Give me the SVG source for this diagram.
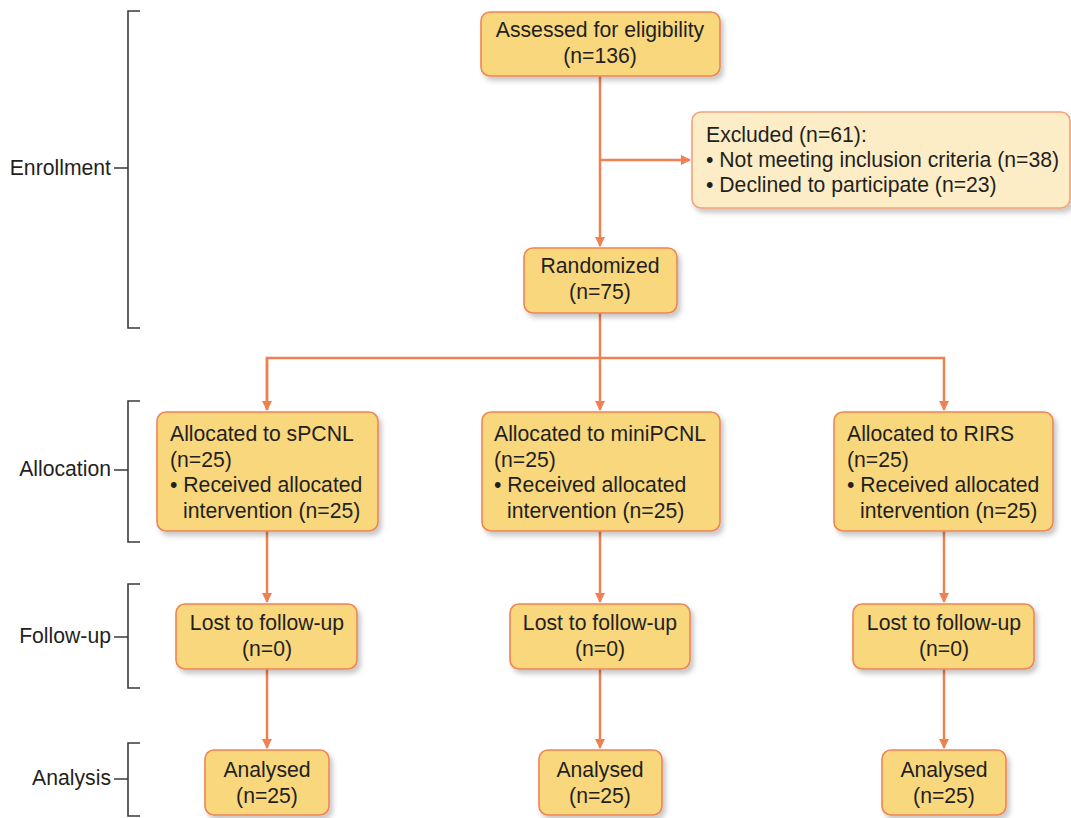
<svg xmlns="http://www.w3.org/2000/svg" width="1071" height="818" viewBox="0 0 1071 818">
<style>
text{font-family:"Liberation Sans",Arial,sans-serif;font-size:21.2px;fill:#231f20}
.c{text-anchor:middle}
.r{text-anchor:end}
.box{fill:#f9d77d;stroke:#ef8456;stroke-width:1.6;filter:url(#sh)}
.ex{fill:#fdedc6;stroke:#f3a27c;stroke-width:1.6;filter:url(#sh)}
.ln{fill:none;stroke:#ef8050;stroke-width:2.5}
.br{fill:none;stroke:#3a3a3a;stroke-width:1.6}
</style>
<defs>
<filter id="sh" x="-10%" y="-10%" width="125%" height="130%">
<feDropShadow dx="3" dy="4" stdDeviation="2.5" flood-color="#000" flood-opacity="0.22"/>
</filter>
<marker id="ah" markerWidth="10" markerHeight="10" refX="9" refY="5" orient="auto" markerUnits="userSpaceOnUse">
<path d="M0,0 L10,5 L0,10 Z" fill="#ef8050"/>
</marker>
</defs>
<rect width="1071" height="818" fill="#fff"/>
<g id="phases">
<path class="br" d="M140,11 H128 V328 H140 M114,168 H128"/>
<text class="r" x="111" y="175">Enrollment</text>
<path class="br" d="M140,401 H128 V542 H140 M114,470 H128"/>
<text class="r" x="111" y="476">Allocation</text>
<path class="br" d="M140,584 H128 V688 H140 M114,637 H128"/>
<text class="r" x="111" y="643">Follow-up</text>
<path class="br" d="M140,743 H128 V816 H140 M114,779 H128"/>
<text class="r" x="111" y="785">Analysis</text>
</g>
<g id="connectors">
<path class="ln" d="M600,76 V246" marker-end="url(#ah)"/>
<path class="ln" d="M600,160 H690" marker-end="url(#ah)"/>
<path class="ln" d="M600,313 V410" marker-end="url(#ah)"/>
<path class="ln" d="M267,410 V358 H944 V410" marker-end="url(#ah)"/>
<path class="ln" d="M267,358 V410" marker-end="url(#ah)"/>
<path class="ln" d="M267,531 V602" marker-end="url(#ah)"/>
<path class="ln" d="M600,531 V602" marker-end="url(#ah)"/>
<path class="ln" d="M944,531 V602" marker-end="url(#ah)"/>
<path class="ln" d="M267,669 V748" marker-end="url(#ah)"/>
<path class="ln" d="M600,669 V748" marker-end="url(#ah)"/>
<path class="ln" d="M944,669 V748" marker-end="url(#ah)"/>
</g>
<g id="assessed">
<rect class="box" x="481" y="12" width="239" height="64" rx="9"/>
<text class="c" x="600" y="37">Assessed for eligibility</text>
<text class="c" x="600" y="63">(n=136)</text>
</g>
<g id="excluded">
<rect class="ex" x="692" y="112" width="378" height="96" rx="9"/>
<text x="706" y="142">Excluded (n=61):</text>
<text x="706" y="167">• Not meeting inclusion criteria (n=38)</text>
<text x="706" y="192">• Declined to participate (n=23)</text>
</g>
<g id="randomized">
<rect class="box" x="524" y="248" width="153" height="65" rx="9"/>
<text class="c" x="600" y="273">Randomized</text>
<text class="c" x="600" y="299">(n=75)</text>
</g>
<g id="alloc-spcnl">
<rect class="box" x="157" y="412" width="221" height="119" rx="9"/>
<text x="170" y="441">Allocated to sPCNL</text>
<text x="170" y="467">(n=25)</text>
<text x="170" y="492">• Received allocated</text>
<text x="183" y="518">intervention (n=25)</text>
</g>
<g id="alloc-minipcnl">
<rect class="box" x="482" y="412" width="238" height="119" rx="9"/>
<text x="494" y="441">Allocated to miniPCNL</text>
<text x="494" y="467">(n=25)</text>
<text x="494" y="492">• Received allocated</text>
<text x="507" y="518">intervention (n=25)</text>
</g>
<g id="alloc-rirs">
<rect class="box" x="834" y="412" width="219" height="119" rx="9"/>
<text x="847" y="441">Allocated to RIRS</text>
<text x="847" y="467">(n=25)</text>
<text x="847" y="492">• Received allocated</text>
<text x="860" y="518">intervention (n=25)</text>
</g>
<g id="lost-spcnl">
<rect class="box" x="176" y="604" width="181" height="65" rx="9"/>
<text class="c" x="267" y="630">Lost to follow-up</text>
<text class="c" x="267" y="656">(n=0)</text>
</g>
<g id="lost-minipcnl">
<rect class="box" x="510" y="604" width="180" height="65" rx="9"/>
<text class="c" x="600" y="630">Lost to follow-up</text>
<text class="c" x="600" y="656">(n=0)</text>
</g>
<g id="lost-rirs">
<rect class="box" x="853" y="604" width="181" height="65" rx="9"/>
<text class="c" x="944" y="630">Lost to follow-up</text>
<text class="c" x="944" y="656">(n=0)</text>
</g>
<g id="analysed-spcnl">
<rect class="box" x="205" y="750" width="124" height="65" rx="9"/>
<text class="c" x="267" y="777">Analysed</text>
<text class="c" x="267" y="803">(n=25)</text>
</g>
<g id="analysed-minipcnl">
<rect class="box" x="539" y="750" width="123" height="65" rx="9"/>
<text class="c" x="600" y="777">Analysed</text>
<text class="c" x="600" y="803">(n=25)</text>
</g>
<g id="analysed-rirs">
<rect class="box" x="882" y="750" width="124" height="65" rx="9"/>
<text class="c" x="944" y="777">Analysed</text>
<text class="c" x="944" y="803">(n=25)</text>
</g>
</svg>
